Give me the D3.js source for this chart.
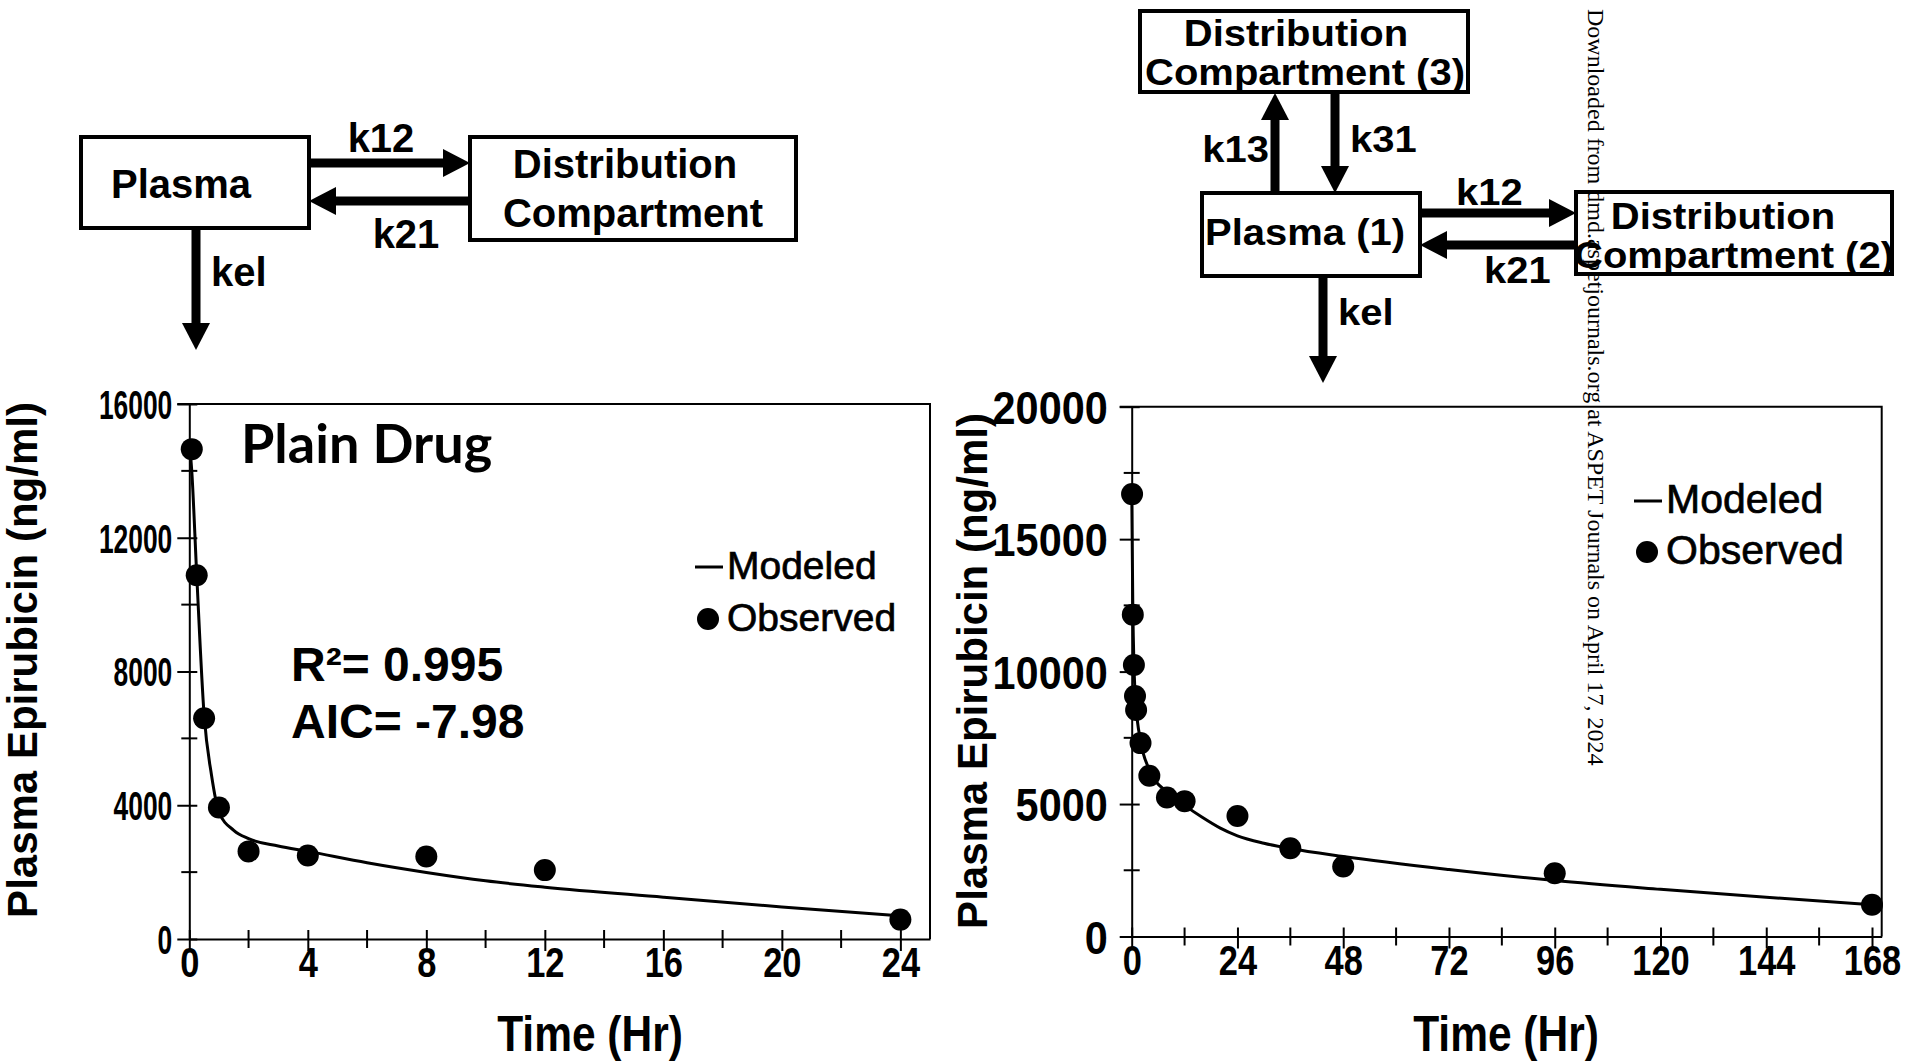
<!DOCTYPE html>
<html>
<head>
<meta charset="utf-8">
<script src="https://cdn.jsdelivr.net/npm/d3@7"></script>
<style>
  body { margin: 0; background: #fff; }
  text { font-family: "Liberation Sans", Arial, sans-serif; fill: #000; }
</style>
</head>
<body>
<script>
const W = 1909, H = 1062;

// Plain drug (two compartment model)
const leftObsTime = [0.083, 0.25, 0.5, 1, 2, 4, 8, 12, 24];
const leftObsConc = [14650, 10880, 6600, 3930, 2620, 2500, 2470, 2060, 580];
const leftModTime = [0, 0.083, 0.25, 0.5, 0.75, 1, 1.5, 2, 3, 4, 6, 8, 10, 12, 16, 20, 24];
const leftModConc = [14900, 14000, 10900, 6700, 4900, 3800, 3250, 3000, 2780, 2620, 2280, 1990, 1740, 1550, 1250, 960, 690];
const leftXTicks = [0, 4, 8, 12, 16, 20, 24];
const leftXMinor = [2, 6, 10, 14, 18, 22];
const leftYTicks = [0, 4000, 8000, 12000, 16000];
const leftYMinor = [2000, 6000, 10000, 14000];

// three compartment model
const rightObsTime = [0.083, 0.25, 0.5, 0.75, 1, 2, 4, 8, 12, 24, 36, 48, 96, 168];
const rightObsConc = [16700, 12150, 10250, 9080, 8550, 7300, 6070, 5250, 5110, 4550, 3330, 2640, 2390, 1200];
const rightModTime = [0, 0.25, 0.5, 1, 2, 4, 8, 12, 16, 20, 24, 30, 36, 48, 72, 96, 120, 144, 168];
const rightModConc = [17000, 12500, 10300, 8700, 7400, 6300, 5450, 4950, 4500, 4100, 3800, 3520, 3320, 3020, 2530, 2110, 1780, 1480, 1200];
const rightXTicks = [0, 24, 48, 72, 96, 120, 144, 168];
const rightXMinor = [12, 36, 60, 84, 108, 132, 156];
const rightYTicks = [0, 5000, 10000, 15000, 20000];
const rightYMinor = [2500, 7500, 12500, 17500];

const svg = d3.select("body").append("svg")
    .attr("width", W)
    .attr("height", H);

function txt(g, s, x, y, o = {}) {
    let tr = `translate(${x},${y})`;
    if (o.rot) tr += ` rotate(${o.rot})`;
    if (o.sx || o.sy) tr += ` scale(${o.sx || 1},${o.sy || 1})`;
    const t = g.append("text")
        .attr("transform", tr)
        .attr("text-anchor", o.anchor || "start")
        .attr("font-size", o.size || 40)
        .attr("font-weight", o.weight || "bold")
        .text(s);
    if (o.family) t.style("font-family", o.family);
    return t;
}

// condensed look: squeeze tick labels horizontally around their anchor
function squeeze(sel, sx, yFix) {
    sel.each(function () {
        const t = d3.select(this);
        const x0 = +t.attr("x") || 0;
        const y0 = yFix !== undefined ? yFix : (+t.attr("y") || 0);
        t.attr("x", 0).attr("y", 0).attr("transform", `translate(${x0},${y0}) scale(${sx},1)`);
        if (yFix !== undefined) t.attr("dy", 0);
    });
}

function box(g, x1, y1, x2, y2) {
    g.append("rect")
        .attr("x", x1).attr("y", y1)
        .attr("width", x2 - x1).attr("height", y2 - y1)
        .attr("fill", "#fff")
        .attr("stroke", "#000")
        .attr("stroke-width", 4);
}

function arrow(g, x1, y1, x2, y2) {
    const a = Math.atan2(y2 - y1, x2 - x1) * 180 / Math.PI;
    const len = Math.hypot(x2 - x1, y2 - y1);
    const hl = 27, hw = 14, sw = 9;
    const ga = g.append("g").attr("transform", `translate(${x1},${y1}) rotate(${a})`);
    ga.append("rect").attr("x", 0).attr("y", -sw / 2).attr("width", len - hl + 1).attr("height", sw);
    ga.append("path").attr("d", `M${len},0L${len - hl},${-hw}L${len - hl},${hw}Z`);
}

function chart(o) {
    const g = svg.append("g");
    const x = d3.scaleLinear().domain([0, o.xMax]).range([o.left, o.right]);
    const y = d3.scaleLinear().domain([0, o.yMax]).range([o.bottom, o.top]);

    // frame top and right
    g.append("path")
        .attr("d", `M${o.left - 12},${o.top}H${o.right}V${o.bottom}`)
        .attr("fill", "none")
        .attr("stroke", "#000")
        .attr("stroke-width", 2);

    const yAxis = g.append("g")
        .attr("transform", `translate(${o.left},0)`)
        .call(d3.axisLeft(y).tickValues(o.yTicks).tickSize(12).tickSizeOuter(0)
            .tickPadding(o.yPad).tickFormat(d3.format("d")));
    yAxis.selectAll(".tick line").attr("x1", 8);
    yAxis.selectAll("path, line").attr("stroke-width", 2);
    yAxis.attr("font-family", null).attr("font-size", o.ySize).attr("font-weight", "bold");
    yAxis.selectAll(".tick text").attr("dy", "0.36em");
    squeeze(yAxis.selectAll(".tick text"), o.ySx);

    const xAxis = g.append("g")
        .attr("transform", `translate(0,${o.bottom})`)
        .call(d3.axisBottom(x).tickValues(o.xTicks).tickSize(12).tickSizeOuter(0)
            .tickFormat(d3.format("d")));
    xAxis.selectAll(".tick line").attr("y1", -9);
    xAxis.selectAll("path, line").attr("stroke-width", 2);
    xAxis.attr("font-family", null).attr("font-size", 42).attr("font-weight", "bold");
    squeeze(xAxis.selectAll(".tick text"), 0.82, o.xLab);

    // minor ticks
    g.selectAll(".ymin").data(o.yMinor).enter().append("line")
        .attr("x1", o.left - 8).attr("x2", o.left + 8)
        .attr("y1", d => y(d)).attr("y2", d => y(d))
        .attr("stroke", "#000").attr("stroke-width", 2);
    g.selectAll(".xmin").data(o.xMinor).enter().append("line")
        .attr("x1", d => x(d)).attr("x2", d => x(d))
        .attr("y1", o.bottom - 9).attr("y2", o.bottom + 9)
        .attr("stroke", "#000").attr("stroke-width", 2);

    // modeled curve
    const line = d3.line()
        .x(d => x(d[0]))
        .y(d => y(d[1]))
        .curve(d3.curveMonotoneX);
    g.append("path")
        .datum(d3.zip(o.modTime, o.modConc))
        .attr("d", line)
        .attr("fill", "none")
        .attr("stroke", "#000")
        .attr("stroke-width", 3);

    // observed points
    g.selectAll(".obs").data(d3.zip(o.obsTime, o.obsConc)).enter().append("circle")
        .attr("cx", d => x(d[0]))
        .attr("cy", d => y(d[1]))
        .attr("r", 11)
        .attr("fill", "#000");

    // titles
    txt(g, "Time (Hr)", o.xTitle[0], o.xTitle[1], { anchor: "middle", size: 50, sx: 0.85 });
    txt(g, "Plasma Epirubicin (ng/ml)", o.yTitle[0], o.yTitle[1], { anchor: "middle", size: 42, rot: -90 });

    // legend
    const lg = o.legend;
    g.append("line")
        .attr("x1", lg.x - 32).attr("x2", lg.x - 4)
        .attr("y1", lg.y1 - 12).attr("y2", lg.y1 - 12)
        .attr("stroke", "#000").attr("stroke-width", 3);
    txt(g, "Modeled", lg.x, lg.y1, { size: lg.size, weight: "normal" })
        .attr("stroke", "#000").attr("stroke-width", 0.7);
    g.append("circle")
        .attr("cx", lg.x - 19).attr("cy", lg.y2 - 12)
        .attr("r", 11).attr("fill", "#000");
    txt(g, "Observed", lg.x, lg.y2, { size: lg.size, weight: "normal" })
        .attr("stroke", "#000").attr("stroke-width", 0.7);
    return g;
}

const gl = chart({
    left: 189.3, right: 930, top: 404, bottom: 939, xMax: 25.0, yMax: 16000,
    xTicks: leftXTicks, xMinor: leftXMinor, yTicks: leftYTicks, yMinor: leftYMinor,
    yPad: 5, ySize: 40, ySx: 0.66, xLab: 38,
    xTitle: [590, 1051], yTitle: [37, 660],
    obsTime: leftObsTime, obsConc: leftObsConc, modTime: leftModTime, modConc: leftModConc,
    legend: { x: 727, y1: 579, y2: 631, size: 39 }
});
txt(gl, "Plain Drug", 241, 463, { size: 54, family: "Lato, 'Open Sans', sans-serif" });
txt(gl, "R²= 0.995", 291, 681, { size: 48 });
txt(gl, "AIC= -7.98", 291, 738, { size: 48 });

chart({
    left: 1131.7, right: 1881.7, top: 406.7, bottom: 936.5, xMax: 170.2, yMax: 20000,
    xTicks: rightXTicks, xMinor: rightXMinor, yTicks: rightYTicks, yMinor: rightYMinor,
    yPad: 12, ySize: 46, ySx: 0.9, xLab: 38,
    xTitle: [1506, 1051], yTitle: [987, 671],
    obsTime: rightObsTime, obsConc: rightObsConc, modTime: rightModTime, modConc: rightModConc,
    legend: { x: 1666, y1: 513, y2: 564, size: 41 }
});

// left scheme: two compartments
const d1 = svg.append("g");
arrow(d1, 309, 163, 470, 163);
arrow(d1, 470, 201, 309, 201);
arrow(d1, 196, 228, 196, 350);
box(d1, 81, 137, 309, 228);
box(d1, 470, 137, 796, 240);
txt(d1, "Plasma", 181, 198, { anchor: "middle" });
txt(d1, "Distribution", 625, 178, { anchor: "middle" });
txt(d1, "Compartment", 633, 227, { anchor: "middle" });
txt(d1, "k12", 381, 152, { anchor: "middle" });
txt(d1, "k21", 406, 248, { anchor: "middle" });
txt(d1, "kel", 211, 286);

// right scheme: three compartments
const d2 = svg.append("g");
arrow(d2, 1275, 193, 1275, 93);
arrow(d2, 1335, 93, 1335, 193);
arrow(d2, 1420, 213, 1576, 213);
arrow(d2, 1576, 245, 1420, 245);
arrow(d2, 1323, 276, 1323, 383);
box(d2, 1140, 11, 1468, 92);
box(d2, 1202, 193, 1420, 276);
box(d2, 1576, 192, 1892, 274);
const sy = 0.9;
txt(d2, "Distribution", 1296, 46, { anchor: "middle", sy: sy });
txt(d2, "Compartment (3)", 1305, 85, { anchor: "middle", sy: sy });
txt(d2, "Plasma (1)", 1305, 245, { anchor: "middle", sy: sy });
txt(d2, "Distribution", 1723, 229, { anchor: "middle", sy: sy });
txt(d2, "Compartment (2)", 1734, 268, { anchor: "middle", sy: sy });
txt(d2, "k13", 1269, 162, { anchor: "end", sy: sy });
txt(d2, "k31", 1350, 152, { sy: sy });
txt(d2, "k12", 1456, 205, { sy: sy });
txt(d2, "k21", 1484, 283, { sy: sy });
txt(d2, "kel", 1338, 325, { sy: sy });

// watermark
txt(svg, "Downloaded from dmd.aspetjournals.org at ASPET Journals on April 17, 2024", 1588, 9,
    { size: 24, weight: "normal", rot: 90, family: "'Liberation Serif', 'Times New Roman', serif" });
</script>
</body>
</html>
